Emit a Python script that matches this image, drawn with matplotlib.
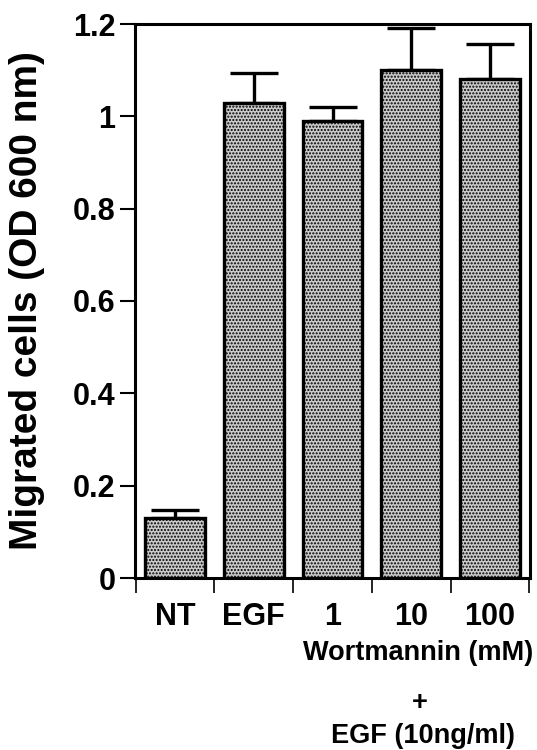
import matplotlib
matplotlib.use("Agg")
import matplotlib.pyplot as plt
import numpy as np

categories = ["NT", "EGF", "1", "10", "100"]
values = [0.129, 1.029, 0.990, 1.100, 1.081]
errors = [0.019, 0.064, 0.031, 0.092, 0.076]
yticks = [0, 0.2, 0.4, 0.6, 0.8, 1.0, 1.2]
yticklabels = ["0", "0.2", "0.4", "0.6", "0.8", "1", "1.2"]

plt.rcParams['font.family'] = ['Liberation Sans', 'DejaVu Sans']
plt.rcParams['font.weight'] = 'bold'
plt.rcParams['hatch.color'] = '#8a8a8a'
plt.rcParams['hatch.linewidth'] = 1.0

fig = plt.figure(figsize=(5.37, 7.5), dpi=100)
ax = fig.add_axes([135/537, 1-578/750, (530-135)/537, (578-24)/750])

x = np.arange(len(categories))
ax.bar(x, values, width=0.76, color='#cacaca', edgecolor='black', linewidth=2.4, hatch='.....', zorder=3)
ax.errorbar(x, values, yerr=[np.zeros(len(errors)), errors], fmt='none', ecolor='black',
            elinewidth=2.4, capsize=17, capthick=2.4, zorder=2)

ax.set_xlim(-0.51, 4.51)
ax.set_ylim(0, 1.2)
ax.set_yticks(yticks)
ax.set_yticklabels(yticklabels, fontsize=22, fontweight='bold')
ax.tick_params(axis='y', direction='out', length=11, width=1.5, pad=3)

ax.set_xticks(x)
ax.set_xticklabels(categories, fontsize=22, fontweight='bold')
ax.tick_params(axis='x', which='major', length=0, pad=17)
ax.set_xticks(np.arange(-0.5, 5.0, 1.0), minor=True)
ax.tick_params(axis='x', which='minor', direction='out', length=11, width=1.2)

for s in ax.spines.values():
    s.set_linewidth(2.2)

fig.text(27/537, 1-301/750, "Migrated cells (OD 600 nm)", rotation=90, fontsize=28,
         fontweight='bold', ha='center', va='center')
fig.text(418/537, 1-653/750, "Wortmannin (mM)", fontsize=19.5, fontweight='bold', ha='center', va='center')
fig.text(420/537, 1-703/750, "+", fontsize=19.5, fontweight='bold', ha='center', va='center')
fig.text(423/537, 1-736/750, "EGF (10ng/ml)", fontsize=19.5, fontweight='bold', ha='center', va='center')

fig.savefig("out.png", dpi=100)
